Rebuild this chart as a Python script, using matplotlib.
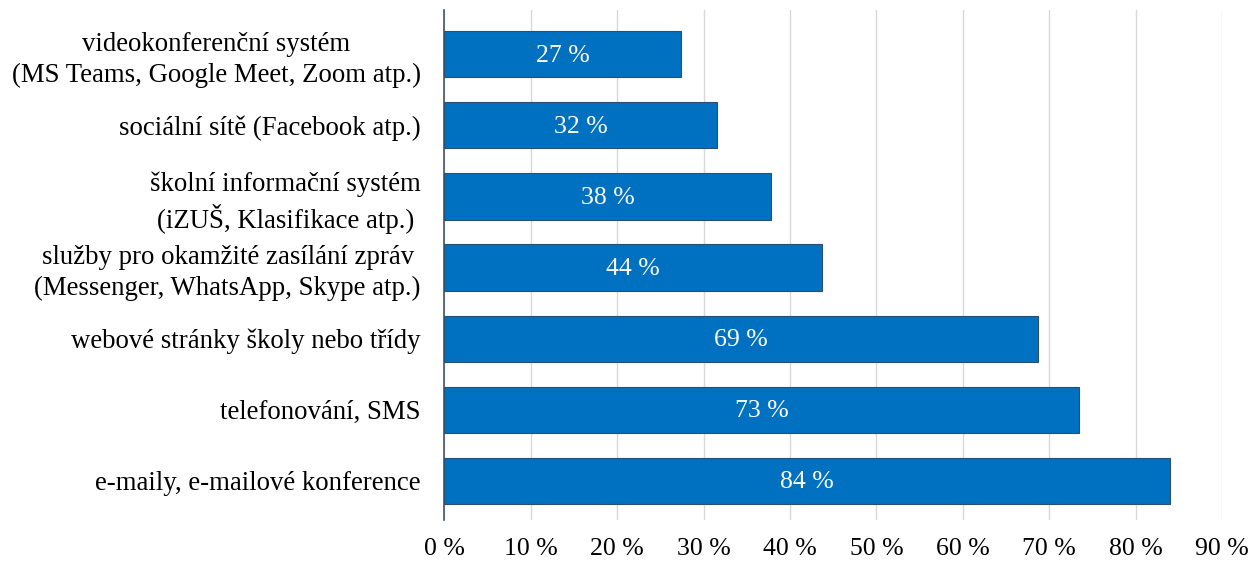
import matplotlib.pyplot as plt

categories = [
    "videokonferenční systém\n(MS Teams, Google Meet, Zoom atp.)",
    "sociální sítě (Facebook atp.)",
    "školní informační systém\n(iZUŠ, Klasifikace atp.)",
    "služby pro okamžité zasílání zpráv\n(Messenger, WhatsApp, Skype atp.)",
    "webové stránky školy nebo třídy",
    "telefonování, SMS",
    "e-maily, e-mailové konference",
]
values = [27.4, 31.6, 37.8, 43.7, 68.7, 73.4, 84.0]
xticks = [0, 10, 20, 30, 40, 50, 60, 70, 80, 90]

plt.rcParams['font.family'] = ['Liberation Serif', 'DejaVu Serif']

fig = plt.figure(figsize=(12.52, 5.61), dpi=100)
ax = fig.add_axes([0.355, 0.073, 0.621, 0.909])

ypos = list(range(len(categories)))
bars = ax.barh(ypos, values, height=0.65, color='#0070C0', edgecolor='#2F4F6F',
               linewidth=0.8, zorder=3)

for y, v in zip(ypos, values):
    ax.text(v / 2, y + 0.02, f"{round(v):d} %", ha='center', va='center',
            color='white', fontsize=18.5, zorder=4)

ax.set_yticks(ypos)
ax.set_yticklabels(categories, fontsize=19.3, multialignment='center',
                   linespacing=1.3)
ax.set_ylim(6.55, -0.62)

ax.set_xlim(0, 90)
ax.set_xticks(xticks)
ax.set_xticklabels([f"{t} %" for t in xticks], fontsize=18.5)
ax.xaxis.grid(True, color='#D9D9D9', linewidth=1, zorder=0)

ax.tick_params(axis='x', length=0, pad=13)
ax.tick_params(axis='y', length=0, pad=17)
for s in ['top', 'right', 'bottom']:
    ax.spines[s].set_visible(False)
ax.spines['left'].set_color('#44546A')
ax.spines['left'].set_linewidth(1.2)

fig.savefig('out.png', dpi=100)
